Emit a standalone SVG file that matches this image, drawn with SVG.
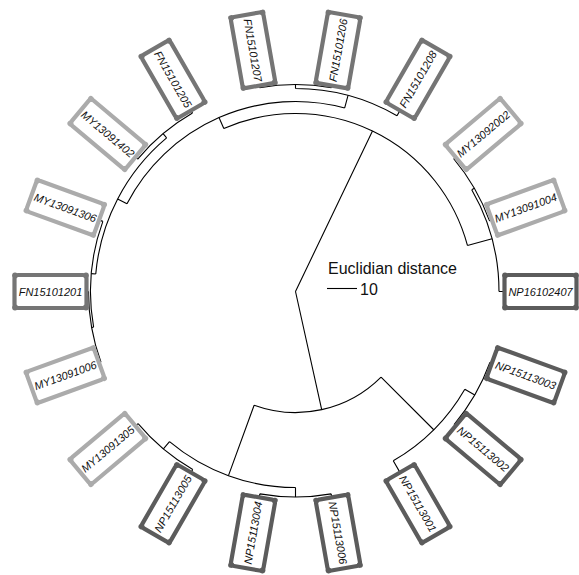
<svg xmlns="http://www.w3.org/2000/svg" xmlns:xlink="http://www.w3.org/1999/xlink" width="579" height="575" viewBox="0 0 579 575">
<style>
  .edge{fill:none;stroke:#000;stroke-width:1.1}
  .lbl{font-family:"Liberation Sans",Arial,sans-serif;font-size:11px;font-style:italic;fill:#111;text-anchor:middle}
  .my{color:#ababab}
  .fn{color:#757575}
  .np{color:#5c5c5c}
  .legend{font-family:"Liberation Sans",Arial,sans-serif;font-size:16px;fill:#111}
</style>
<defs>
  <g id="box">
    <rect x="-36" y="-16.5" width="72" height="33" rx="3.5" fill="#fff" stroke="currentColor" stroke-width="4.2" stroke-linejoin="round"/>
    <circle cx="-35.5" cy="-16" r="2.9" fill="currentColor"/>
    <circle cx="35.5" cy="-16" r="2.9" fill="currentColor"/>
    <circle cx="-35.5" cy="16" r="2.9" fill="currentColor"/>
    <circle cx="35.5" cy="16" r="2.9" fill="currentColor"/>
  </g>
</defs>
<rect width="579" height="575" fill="#fff"/>
<g id="connectors" class="edge">
  <path d="M295.5,291.5 L372.48,131 M295.5,291.5 L321.69,409.63"/>
  <path d="M381.06,377.06 A121,121 0 0 1 254.12,405.2 M381.06,377.06 L433.74,429.74 M254.12,405.2 L228.46,475.68"/>
  <path d="M464.81,389.25 A195.5,195.5 0 0 1 393.25,460.81 M464.81,389.25 L474.77,395 M393.25,460.81 L399.5,471.63"/>
  <path d="M490.02,362.3 A207,207 0 0 1 454.07,424.56 M490.02,362.3 L490.96,362.64 M454.07,424.56 L454.84,425.2"/>
  <path d="M295.5,487.5 A196,196 0 0 1 169.51,441.64 M295.5,487.5 L295.5,497 M169.51,441.64 L163.41,448.92"/>
  <path d="M331.19,493.88 A205.5,205.5 0 0 1 259.81,493.88 M331.19,493.88 L331.62,496.34 M259.81,493.88 L259.38,496.34"/>
  <path d="M192.75,469.47 A205.5,205.5 0 0 1 138.08,423.59 M192.75,469.47 L191.5,471.63 M138.08,423.59 L136.16,425.2"/>
  <path d="M223.81,128.57 A178,178 0 0 1 467.44,245.43 M223.81,128.57 L218.98,117.59 M467.44,245.43 L492.07,238.83"/>
  <path d="M471.74,189.75 A203.5,203.5 0 0 1 498.99,291.5 M471.74,189.75 L474.34,188.25 M498.99,291.5 L503.5,291.5"/>
  <path d="M453.69,158.76 A206.5,206.5 0 0 1 489.55,220.87 M453.69,158.76 L454.84,157.8 M489.55,220.87 L490.96,220.36"/>
  <path d="M126.97,203.77 A190,190 0 0 1 344.68,107.97 M126.97,203.77 L117.65,198.92 M344.68,107.97 L348.04,95.42"/>
  <path d="M95.76,274.02 A200.5,200.5 0 0 1 166.62,137.91 M95.76,274.02 L91.28,273.63 M166.62,137.91 L163.09,133.7"/>
  <path d="M93.61,327.1 A205,205 0 0 1 102.86,221.39 M93.61,327.1 L91.64,327.45 M102.86,221.39 L100.04,220.36"/>
  <path d="M100.98,362.3 A207,207 0 0 1 88.5,291.5 M100.98,362.3 L100.04,362.64 M88.5,291.5 L87.5,291.5"/>
  <path d="M137.7,159.09 A206,206 0 0 1 192.5,113.1 M137.7,159.09 L136.16,157.8 M192.5,113.1 L191.5,111.37"/>
  <path d="M295.5,88.5 A203,203 0 0 1 397,115.7 M295.5,88.5 L295.5,84.5 M397,115.7 L399.5,111.37"/>
  <path d="M259.55,87.64 A207,207 0 0 1 331.45,87.64 M259.55,87.64 L259.38,86.66 M331.45,87.64 L331.62,86.66"/>
</g>
<g id="NP16102407" transform="translate(540.5,291.5) rotate(0)"><use xlink:href="#box" class="np"/><text class="lbl" y="4">NP16102407</text></g>
<g id="NP15113003" transform="translate(525.72,375.29) rotate(20)"><use xlink:href="#box" class="np"/><text class="lbl" y="4">NP15113003</text></g>
<g id="NP15113002" transform="translate(483.18,448.98) rotate(40)"><use xlink:href="#box" class="np"/><text class="lbl" y="4">NP15113002</text></g>
<g id="NP15113001" transform="translate(418,503.68) rotate(60)"><use xlink:href="#box" class="np"/><text class="lbl" y="4">NP15113001</text></g>
<g id="NP15113006" transform="translate(338.04,532.78) rotate(80)"><use xlink:href="#box" class="np"/><text class="lbl" y="4">NP15113006</text></g>
<g id="NP15113004" transform="translate(252.96,532.78) rotate(-80)"><use xlink:href="#box" class="np"/><text class="lbl" y="4">NP15113004</text></g>
<g id="NP15113005" transform="translate(173,503.68) rotate(-60)"><use xlink:href="#box" class="np"/><text class="lbl" y="4">NP15113005</text></g>
<g id="MY13091305" transform="translate(107.82,448.98) rotate(-40)"><use xlink:href="#box" class="my"/><text class="lbl" y="4">MY13091305</text></g>
<g id="MY13091006" transform="translate(65.28,375.29) rotate(-20)"><use xlink:href="#box" class="my"/><text class="lbl" y="4">MY13091006</text></g>
<g id="FN15101201" transform="translate(50.5,291.5) rotate(0)"><use xlink:href="#box" class="fn"/><text class="lbl" y="4">FN15101201</text></g>
<g id="MY13091306" transform="translate(65.28,207.71) rotate(20)"><use xlink:href="#box" class="my"/><text class="lbl" y="4">MY13091306</text></g>
<g id="MY13091402" transform="translate(107.82,134.02) rotate(40)"><use xlink:href="#box" class="my"/><text class="lbl" y="4">MY13091402</text></g>
<g id="FN15101205" transform="translate(173,79.32) rotate(60)"><use xlink:href="#box" class="fn"/><text class="lbl" y="4">FN15101205</text></g>
<g id="FN15101207" transform="translate(252.96,50.22) rotate(80)"><use xlink:href="#box" class="fn"/><text class="lbl" y="4">FN15101207</text></g>
<g id="FN15101206" transform="translate(338.04,50.22) rotate(-80)"><use xlink:href="#box" class="fn"/><text class="lbl" y="4">FN15101206</text></g>
<g id="FN15101208" transform="translate(418,79.32) rotate(-60)"><use xlink:href="#box" class="fn"/><text class="lbl" y="4">FN15101208</text></g>
<g id="MY13092002" transform="translate(483.18,134.02) rotate(-40)"><use xlink:href="#box" class="my"/><text class="lbl" y="4">MY13092002</text></g>
<g id="MY13091004" transform="translate(525.72,207.71) rotate(-20)"><use xlink:href="#box" class="my"/><text class="lbl" y="4">MY13091004</text></g>
<g id="legend">
  <text class="legend" x="328" y="274">Euclidian distance</text>
  <line x1="327" y1="288.5" x2="357" y2="288.5" stroke="#000" stroke-width="1.1"/>
  <text class="legend" x="360" y="294.5">10</text>
</g>
</svg>
